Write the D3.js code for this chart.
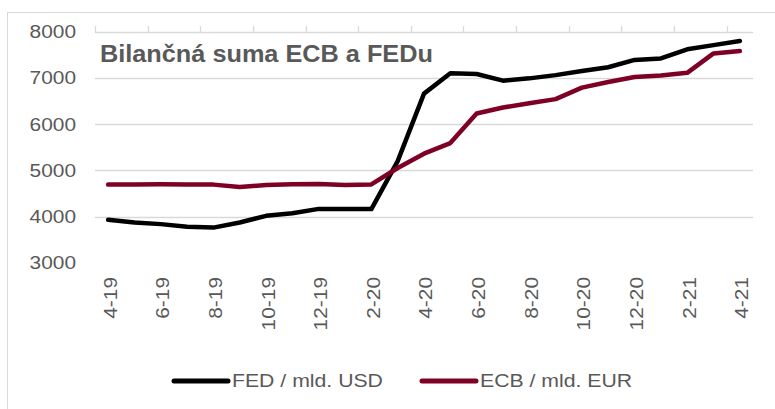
<!DOCTYPE html>
<html>
<head>
<meta charset="utf-8">
<script src="https://cdn.jsdelivr.net/npm/d3@7"></script>
<style>
  body { margin: 0; background: #fff; }
  svg { display: block; font-family: Arial, "Liberation Sans", sans-serif; }
</style>
</head>
<body>
<svg id="chart" width="775" height="409"></svg>
<script>
// monthly data, mld.
const months = ['4-19', '5-19', '6-19', '7-19', '8-19', '9-19', '10-19', '11-19', '12-19',
  '1-20', '2-20', '3-20', '4-20', '5-20', '6-20', '7-20', '8-20', '9-20', '10-20', '11-20',
  '12-20', '1-21', '2-21', '3-21', '4-21'];
const fedValues = [3930, 3870, 3835, 3780, 3760, 3870, 4015, 4070, 4165, 4160, 4160, 5200,
  6660, 7100, 7085, 6940, 6990, 7060, 7150, 7230, 7390, 7420, 7620, 7710, 7800];
const ecbValues = [4690, 4695, 4700, 4695, 4690, 4640, 4680, 4700, 4705, 4680, 4695, 5050,
  5360, 5590, 6230, 6360, 6450, 6540, 6790, 6910, 7020, 7050, 7110, 7530, 7580];
const yTicks = [3000, 4000, 5000, 6000, 7000, 8000];
const gridTicks = [4000, 5000, 6000, 7000, 8000];

const series = [
  { name: 'FED / mld. USD', values: fedValues, color: '#000000' },
  { name: 'ECB / mld. EUR', values: ecbValues, color: '#7f0025' }
];

const textColor = '#595959';
const gridColor = '#d9d9d9';
const stretch = 1.16; // text in the original renders wider than Arial

const svg = d3.select('#chart');

// chart frame
svg.append('rect')
  .attr('x', 7.5).attr('y', 12.5)
  .attr('width', 800).attr('height', 420)
  .attr('fill', 'none')
  .attr('stroke', gridColor);

const x = d3.scaleBand()
  .domain(months)
  .range([95, 753]);

const y = d3.scaleLinear()
  .domain([3000, 8000])
  .range([262.7, 31.7]);

const cx = m => x(m) + x.bandwidth() / 2;

// gridlines
svg.append('g')
  .selectAll('line')
  .data(gridTicks)
  .join('line')
  .attr('x1', 95).attr('x2', 753)
  .attr('y1', d => Math.round(y(d)) + 0.5)
  .attr('y2', d => Math.round(y(d)) + 0.5)
  .attr('stroke', gridColor)
  .attr('stroke-width', 1.3);

// category tick marks along the top
svg.append('g')
  .selectAll('line')
  .data(months.filter((m, i) => i % 2 === 0))
  .join('line')
  .attr('x1', d => Math.round(x(d)) + 0.5)
  .attr('x2', d => Math.round(x(d)) + 0.5)
  .attr('y1', Math.round(y(8000)) - 6)
  .attr('y2', Math.round(y(8000)))
  .attr('stroke', gridColor)
  .attr('stroke-width', 1.3);

// y labels
svg.append('g')
  .selectAll('text')
  .data(yTicks)
  .join('text')
  .attr('transform', d => `translate(76,${y(d)}) scale(${stretch},1)`)
  .attr('dy', '0.36em')
  .attr('text-anchor', 'end')
  .attr('fill', textColor)
  .style('font-size', '18px')
  .text(d => d);

// x labels, rotated
svg.append('g')
  .selectAll('text')
  .data(months.filter((m, i) => i % 2 === 0))
  .join('text')
  .attr('transform', d => `translate(${cx(d) + 2},277) rotate(-90) scale(${stretch},1)`)
  .attr('dy', '0.36em')
  .attr('text-anchor', 'end')
  .attr('fill', textColor)
  .style('font-size', '18px')
  .text(d => d);

// lines
const line = d3.line()
  .x((d, i) => cx(months[i]))
  .y(d => y(d));

svg.append('g')
  .selectAll('path')
  .data(series)
  .join('path')
  .attr('d', d => line(d.values))
  .attr('fill', 'none')
  .attr('stroke', d => d.color)
  .attr('stroke-width', 4.5)
  .attr('stroke-linejoin', 'round')
  .attr('stroke-linecap', 'round');

// title
svg.append('text')
  .attr('transform', 'translate(100,62) scale(1.1,1)')
  .attr('fill', textColor)
  .style('font-size', '23px')
  .style('font-weight', 'bold')
  .text('Bilančná suma ECB a FEDu');

// legend
const legend = svg.append('g')
  .selectAll('g')
  .data(series)
  .join('g')
  .attr('transform', (d, i) => `translate(${174 + i * 248},381)`);

legend.append('line')
  .attr('x1', 0).attr('x2', 54)
  .attr('stroke', d => d.color)
  .attr('stroke-width', 5)
  .attr('stroke-linecap', 'round');

legend.append('text')
  .attr('transform', `translate(58,0) scale(1.18,1)`)
  .attr('dy', '0.36em')
  .attr('fill', textColor)
  .style('font-size', '18px')
  .text(d => d.name);
</script>
</body>
</html>
